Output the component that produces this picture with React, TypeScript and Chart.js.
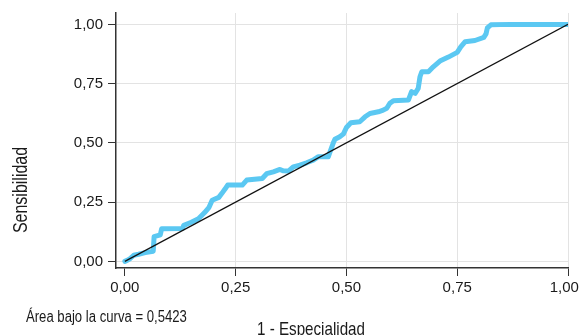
import React, { useEffect, useRef } from "react";
import { Chart, registerables } from "chart.js";

Chart.register(...registerables);

// ROC curve points: 1 - Especialidad (x) and Sensibilidad (y)
const ESPEC_1 = [
  0, 0.005, 0.012, 0.02, 0.031, 0.046, 0.064, 0.066, 0.08, 0.083, 0.13, 0.133, 0.15, 0.166, 0.18, 0.19,
  0.197, 0.212, 0.219, 0.226, 0.232, 0.265, 0.275, 0.31, 0.32, 0.335, 0.35, 0.357, 0.369, 0.38, 0.395,
  0.41, 0.425, 0.436, 0.459, 0.463, 0.47, 0.474, 0.485, 0.493, 0.5, 0.51, 0.53, 0.542, 0.553, 0.572,
  0.583, 0.591, 0.598, 0.606, 0.64, 0.647, 0.655, 0.662, 0.666, 0.67, 0.685, 0.696, 0.711, 0.73, 0.75,
  0.758, 0.768, 0.79, 0.81, 0.815, 0.818, 0.826, 0.87, 1.0,
];
const SENSIB = [
  0, 0.004, 0.012, 0.026, 0.03, 0.037, 0.043, 0.104, 0.112, 0.138, 0.139, 0.152, 0.165, 0.18, 0.206, 0.228,
  0.258, 0.27, 0.287, 0.305, 0.322, 0.322, 0.343, 0.35, 0.37, 0.378, 0.388, 0.382, 0.381, 0.399, 0.406,
  0.416, 0.427, 0.441, 0.441, 0.462, 0.498, 0.515, 0.526, 0.537, 0.565, 0.585, 0.589, 0.61, 0.624, 0.631,
  0.638, 0.646, 0.667, 0.678, 0.681, 0.716, 0.709, 0.73, 0.779, 0.8, 0.8, 0.821, 0.845, 0.862, 0.882,
  0.905, 0.927, 0.932, 0.945, 0.96, 0.985, 0.998, 1.0, 1.0,
];
const REF_X = [0, 1];
const REF_Y = [0, 1];
const X_TICKS = [0, 0.25, 0.5, 0.75, 1];
const Y_TICKS = [0, 0.25, 0.5, 0.75, 1];
const X_TITLE = "1 - Especialidad";
const Y_TITLE = "Sensibilidad";
const FOOTNOTE = "Área bajo la curva = 0,5423";

const FONT = "'Liberation Sans', Arial, sans-serif";
const fmt = (v: number) => v.toFixed(2).replace(".", ",");

export default function App() {
  const ref = useRef<HTMLCanvasElement | null>(null);
  useEffect(() => {
    document.body.style.margin = "0";
    const canvas = ref.current!;
    const narrowText = (ctx: any, text: string, x: number, y: number, size: number, align: string) => {
      ctx.save();
      ctx.translate(x, y);
      ctx.scale(0.82, 1);
      ctx.font = `${size}px ${FONT}`;
      ctx.textAlign = align;
      ctx.textBaseline = "alphabetic";
      ctx.fillText(text, 0, 0);
      ctx.restore();
    };
    const textPlugin = {
      id: "texts",
      afterDraw(chart: any) {
        const ctx = chart.ctx;
        ctx.save();
        ctx.fillStyle = "#1a1a1a";
        narrowText(ctx, FOOTNOTE, 26, 322, 16, "left");
        narrowText(ctx, X_TITLE, 311, 335, 18.5, "center");
        ctx.translate(27, 190);
        ctx.rotate(-Math.PI / 2);
        narrowText(ctx, Y_TITLE, 0, 0, 19.5, "center");
        ctx.restore();
      },
    };
    const chart = new Chart(canvas, {
      type: "line",
      data: {
        datasets: [
          {
            data: REF_X.map((x, i) => ({ x, y: REF_Y[i] })),
            borderColor: "#111",
            borderWidth: 1.2,
            pointRadius: 0,
            order: 0,
          },
          {
            data: ESPEC_1.map((x, i) => ({ x, y: SENSIB[i] })),
            borderColor: "#5BC8F2",
            borderWidth: 5,
            pointRadius: 0,
            borderCapStyle: "round",
            borderJoinStyle: "round",
            order: 1,
          },
        ],
      },
      plugins: [textPlugin],
      options: {
        animation: false,
        responsive: false,
        maintainAspectRatio: false,
        layout: { padding: { left: 0, right: 12, top: 13, bottom: 0 } },
        plugins: { legend: { display: false }, tooltip: { enabled: false } },
        scales: {
          x: {
            type: "linear",
            min: -0.02,
            max: 1.0,
            afterBuildTicks: (s: any) => {
              s.ticks = X_TICKS.map((value) => ({ value }));
            },
            afterFit: (s: any) => {
              s.height = 67;
              s.paddingLeft = 0;
              s.paddingRight = 0;
            },
            ticks: {
              callback: (v: any) => (Number(v) === 1 ? fmt(1) + "\u2002" : fmt(Number(v))),
              font: { family: FONT, size: 15 },
              color: "#1a1a1a",
              padding: 3,
              maxRotation: 0,
              autoSkip: false,
            },
            grid: {
              color: (c: any) => (c.tick && c.tick.value === 0 ? "rgba(0,0,0,0)" : "#e3e3e3"),
              tickColor: "#333",
              tickLength: 8,
              lineWidth: 1,
            },
            border: { color: "#333", width: 1.5 },
          },
          y: {
            type: "linear",
            min: -0.028,
            max: 1.048,
            afterBuildTicks: (s: any) => {
              s.ticks = Y_TICKS.map((value) => ({ value }));
            },
            afterFit: (s: any) => {
              s.width = 116;
              s.paddingTop = 0;
              s.paddingBottom = 0;
            },
            ticks: {
              callback: (v: any) => fmt(Number(v)),
              font: { family: FONT, size: 15 },
              color: "#1a1a1a",
              padding: 5,
              autoSkip: false,
            },
            grid: {
              color: "#e3e3e3",
              tickColor: "#333",
              tickLength: 8,
              lineWidth: 1,
            },
            border: { color: "#333", width: 1.5 },
          },
        },
      },
    } as any);
    return () => chart.destroy();
  }, []);
  return <canvas ref={ref} width={580} height={335} style={{ display: "block" }} />;
}
